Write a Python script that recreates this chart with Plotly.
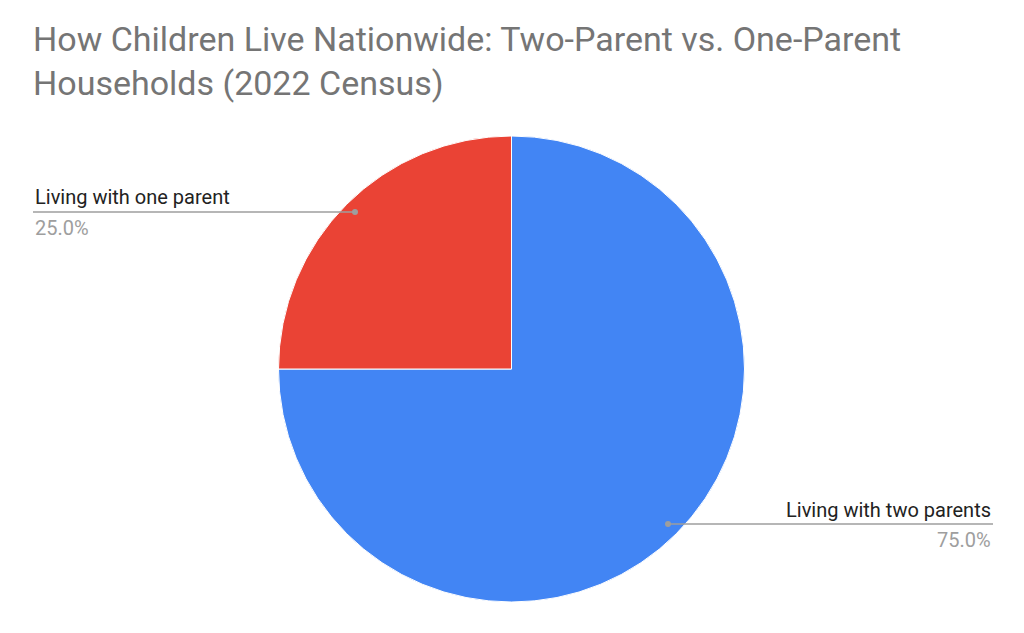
import plotly.graph_objects as go

labels = ["Living with two parents", "Living with one parent"]
values = [75, 25]
colors = ["#4285f4", "#ea4335"]

W, H = 1024, 633
DX, DY = -8, -7
def px(x): return (x + DX) / W
def py(y): return 1 - (y + DY) / H

fig = go.Figure(go.Pie(
    labels=labels, values=values, sort=False, direction="clockwise", rotation=0,
    marker=dict(colors=colors, line=dict(color="white", width=1)),
    textinfo="none", hoverinfo="label+percent", showlegend=False,
    domain=dict(x=[px(278), px(745)], y=[py(601), py(135)]),
))

total = sum(values)
fig.add_shape(type="line", xref="paper", yref="paper", x0=px(33), x1=px(355), y0=py(211), y1=py(211),
              line=dict(color="#9e9e9e", width=1.5))
fig.add_shape(type="circle", xref="paper", yref="paper", x0=px(352), x1=px(358), y0=py(208), y1=py(214),
              fillcolor="#9e9e9e", line=dict(width=0))
fig.add_shape(type="line", xref="paper", yref="paper", x0=px(668), x1=px(993), y0=py(523), y1=py(523),
              line=dict(color="#9e9e9e", width=1.5))
fig.add_shape(type="circle", xref="paper", yref="paper", x0=px(665), x1=px(671), y0=py(520), y1=py(526),
              fillcolor="#9e9e9e", line=dict(width=0))

f = "Roboto, Arial, sans-serif"
anns = [
    dict(x=px(33), y=py(196), text=labels[1], xanchor="left", font=dict(size=20, color="#222222")),
    dict(x=px(33), y=py(227), text=f"{values[1]/total*100:.1f}%", xanchor="left", font=dict(size=20, color="#9e9e9e")),
    dict(x=px(993), y=py(509), text=labels[0], xanchor="right", font=dict(size=20, color="#222222")),
    dict(x=px(993), y=py(539), text=f"{values[0]/total*100:.1f}%", xanchor="right", font=dict(size=20, color="#9e9e9e")),
]
for a in anns:
    a.update(xref="paper", yref="paper", yanchor="middle", showarrow=False)
    a["font"]["family"] = f
fig.update_layout(
    width=W, height=H, margin=dict(l=0, r=0, t=0, b=0),
    paper_bgcolor="white", plot_bgcolor="white",
    annotations=anns,
    title=dict(text="How Children Live Nationwide: Two-Parent vs. One-Parent<br>Households (2022 Census)",
               x=px(33), xanchor="left", y=py(50), yanchor="top",
               font=dict(family=f, size=34, color="#757575")),
)
fig.write_html("out.html")
